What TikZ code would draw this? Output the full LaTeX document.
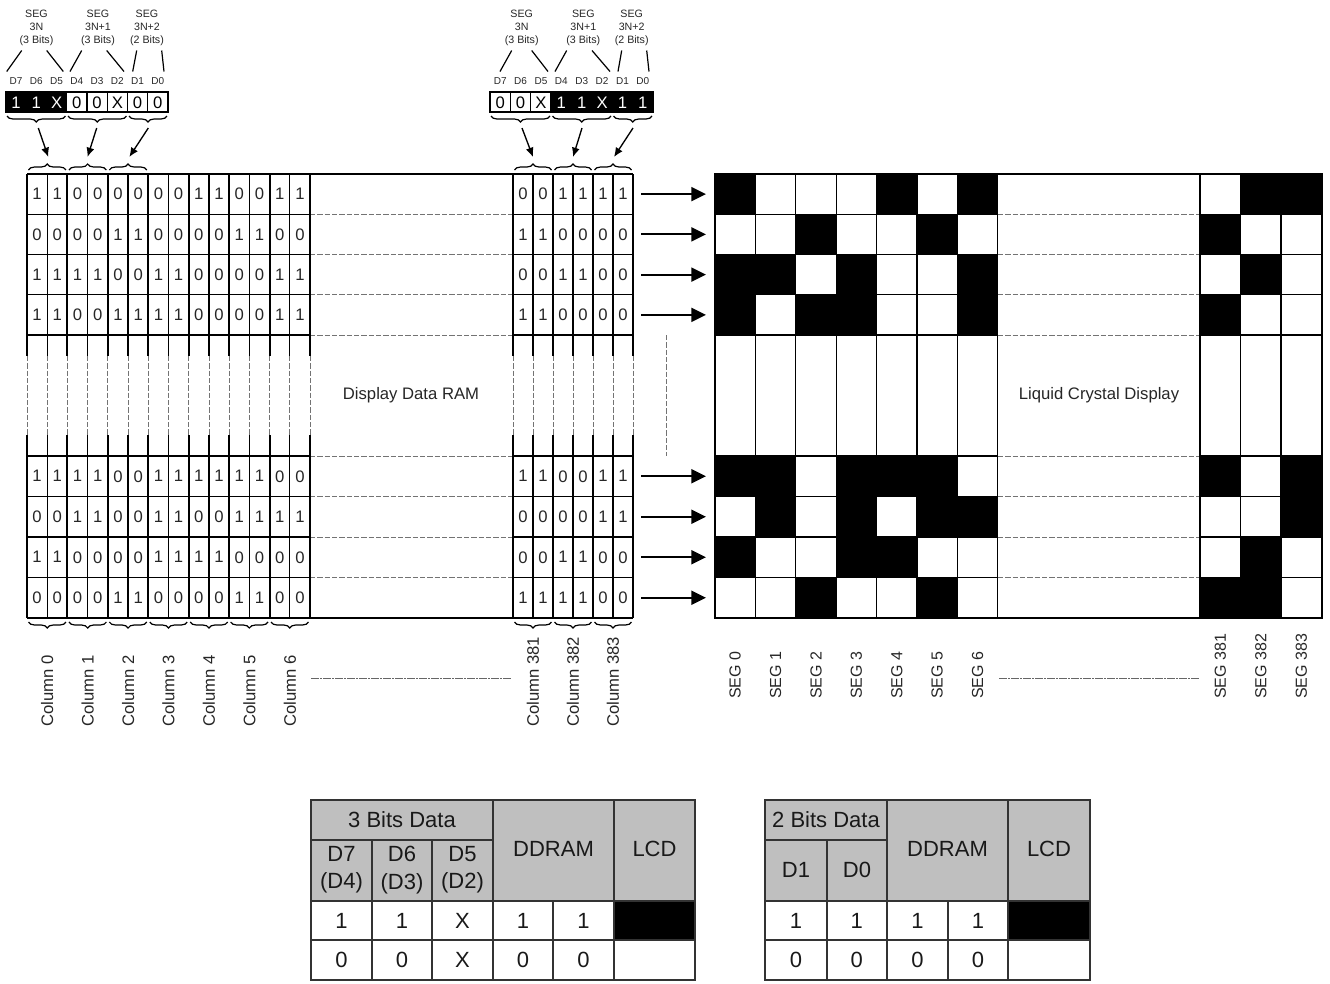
\documentclass[tikz,border=0pt]{standalone}
\usepackage{fontspec}
\setmainfont{Liberation Sans}
\usetikzlibrary{arrows.meta,decorations.pathreplacing}
\begin{document}
\begin{tikzpicture}[x=0.75pt,y=-0.75pt,
  bit/.style={font=\fontsize{12.5}{14}\selectfont, inner sep=0pt, text=black!85},
  hbit/.style={font=\fontsize{12.5}{14}\selectfont, inner sep=0pt},
  dlab/.style={font=\fontsize{7.5}{9}\selectfont, inner sep=0pt, text=black!85},
  seglab/.style={font=\fontsize{8}{10}\selectfont, inner sep=0pt, align=center, text=black!85},
  collab/.style={font=\fontsize{12.5}{14}\selectfont, inner sep=0pt, rotate=90, anchor=west, text=black!85},
  lcdlab/.style={font=\fontsize{12}{14}\selectfont, inner sep=0pt, rotate=90, anchor=west, text=black!85},
  bigtxt/.style={font=\fontsize{12.5}{14}\selectfont, inner sep=0pt, text=black!85},
  thinln/.style={line width=0.9pt},
  pairln/.style={line width=1.6pt},
  gdash/.style={black!55, line width=0.6pt, dash pattern=on 4pt off 1.5pt},
  ddash/.style={black!60, line width=0.7pt, dash pattern=on 6pt off 1pt on 1pt off 1pt},
  boxln/.style={line width=1pt},
  brc/.style={decorate, decoration={brace, amplitude=4.5pt}, line width=0.9pt},
  brcm/.style={decorate, decoration={brace, amplitude=4.5pt, mirror}, line width=0.9pt},
  harrow/.style={-{Latex[length=7pt,width=6pt]}, line width=1pt},
  bigarrow/.style={-{Triangle[length=11pt,width=10.5pt]}, line width=1.5pt},
  tblln/.style={line width=1.3pt, black!80},
  tbltxt/.style={font=\fontsize{16.5}{20.5}\selectfont, inner sep=0pt, align=center, text=black!90},
  hdrgray/.style={fill=black!25}
]
\useasboundingbox (0,0) rectangle (1330,983);

% ---------------- rows: DDRAM digits, LCD pixels, arrows ----------------
\foreach \yy/\hh/\BL/\BR/\SL/\SR [count=\r] in {
 174/40.25/{1,1,0,0,0,0,0,0,1,1,0,0,1,1}/{0,0,1,1,1,1}/{1,0,0,0,1,0,1}/{0,1,1},
 214.25/40.25/{0,0,0,0,1,1,0,0,0,0,1,1,0,0}/{1,1,0,0,0,0}/{0,0,1,0,0,1,0}/{1,0,0},
 254.5/40.25/{1,1,1,1,0,0,1,1,0,0,0,0,1,1}/{0,0,1,1,0,0}/{1,1,0,1,0,0,1}/{0,1,0},
 294.75/40.25/{1,1,0,0,1,1,1,1,0,0,0,0,1,1}/{1,1,0,0,0,0}/{1,0,1,1,0,0,1}/{1,0,0},
 456/40.5/{1,1,1,1,0,0,1,1,1,1,1,1,0,0}/{1,1,0,0,1,1}/{1,1,0,1,1,1,0}/{1,0,1},
 496.5/40.5/{0,0,1,1,0,0,1,1,0,0,1,1,1,1}/{0,0,0,0,1,1}/{0,1,0,1,0,1,1}/{0,0,1},
 537/40.5/{1,1,0,0,0,0,1,1,1,1,0,0,0,0}/{0,0,1,1,0,0}/{1,0,0,1,1,0,0}/{0,1,0},
 577.5/40.5/{0,0,0,0,1,1,0,0,0,0,1,1,0,0}/{1,1,1,1,0,0}/{0,0,1,0,0,1,0}/{1,1,0}}
{
  \pgfmathsetmacro\cy{\yy+\hh/2}
  \foreach \b [count=\i from 0] in \BL {
    \pgfmathsetmacro\cx{27+20.214*(\i+0.5)}
    \node[bit] (dl\r-\i) at (\cx,\cy) {\b};
  }
  \foreach \b [count=\i from 0] in \BR {
    \pgfmathsetmacro\cx{513+20*(\i+0.5)}
    \node[bit] (dr\r-\i) at (\cx,\cy) {\b};
  }
  \foreach \s [count=\k from 0] in \SL {
    \ifnum\s=1 \pgfmathsetmacro\px{715+40.4*\k}\fill (\px,\yy) rectangle ++(40.4,\hh); \fi
  }
  \foreach \s [count=\k from 0] in \SR {
    \ifnum\s=1 \pgfmathsetmacro\px{1200+40.5*\k}\fill (\px,\yy) rectangle ++(40.5,\hh); \fi
  }
  \coordinate (al\r) at (641,\cy);
  \coordinate (ar\r) at (706,\cy);
  \draw[bigarrow] (al\r) -- (ar\r);
}

% ---------------- DDRAM grid ----------------
\foreach \yy in {174,214.25,254.5,294.75,335,456,496.5,537,577.5,618} {
  \draw[thinln] (27,\yy) -- (310,\yy);
  \draw[thinln] (513,\yy) -- (633,\yy);
}
\draw[pairln] (310,174) -- (513,174);
\draw[pairln] (310,618) -- (513,618);
\foreach \yy in {214.25,254.5,294.75,335,456,496.5,537,577.5} {
  \draw[gdash] (310,\yy) -- (513,\yy);
}
\foreach \i in {0,...,14} {
  \pgfmathsetmacro\xx{27+20.214*\i}
  \pgfmathtruncatemacro\ev{mod(\i,2)}
  \ifnum\ev=0 \def\lst{pairln}\else\def\lst{thinln}\fi
  \draw[\lst] (\xx,174) -- (\xx,356);
  \draw[\lst] (\xx,435) -- (\xx,618);
  \draw[gdash] (\xx,356) -- (\xx,435);
}
\foreach \i in {0,...,6} {
  \pgfmathsetmacro\xx{513+20*\i}
  \pgfmathtruncatemacro\ev{mod(\i,2)}
  \ifnum\ev=0 \def\lst{pairln}\else\def\lst{thinln}\fi
  \draw[\lst] (\xx,174) -- (\xx,356);
  \draw[\lst] (\xx,435) -- (\xx,618);
  \draw[gdash] (\xx,356) -- (\xx,435);
}
\node[bigtxt] (ddram) at (411,395) {Display Data RAM};
\draw[gdash] (666,335) -- (666,456);

% ---------------- LCD grid ----------------
\foreach \yy in {214.25,254.5,294.75,335,456,496.5,537,577.5} {
  \draw[thinln] (715,\yy) -- (998,\yy);
  \draw[thinln] (1200,\yy) -- (1322,\yy);
  \draw[gdash] (998,\yy) -- (1200,\yy);
}
\foreach \k in {1,...,7} {
  \pgfmathsetmacro\xx{715+40.4*\k}
  \draw[thinln] (\xx,174) -- (\xx,618);
}
\foreach \xx in {1200,1240.5,1281} {
  \draw[thinln] (\xx,174) -- (\xx,618);
}
\draw[pairln] (715,174) rectangle (1322,618);
\node[bigtxt] (lcd) at (1099,395) {Liquid Crystal Display};

% ---------------- braces on the DDRAM ----------------
\foreach \k in {0,...,2} {
  \pgfmathsetmacro\xa{27+40.43*\k+1.5}
  \pgfmathsetmacro\xb{27+40.43*(\k+1)-1.5}
  \draw[brc] (\xa,170) -- (\xb,170);
}
\foreach \k in {0,...,2} {
  \pgfmathsetmacro\xa{513+40*\k+1.5}
  \pgfmathsetmacro\xb{513+40*(\k+1)-1.5}
  \draw[brc] (\xa,170) -- (\xb,170);
  \draw[brcm] (\xa,622) -- (\xb,622);
}
\foreach \k in {0,...,6} {
  \pgfmathsetmacro\xa{27+40.43*\k+1.5}
  \pgfmathsetmacro\xb{27+40.43*(\k+1)-1.5}
  \draw[brcm] (\xa,622) -- (\xb,622);
}

% ---------------- column / segment labels ----------------
\foreach \t [count=\k from 0] in {0,...,6} {
  \pgfmathsetmacro\cx{27+40.43*(\k+0.5)}
  \node[collab] (col\k) at (\cx,727) {Column \t};
}
\foreach \t [count=\k from 0] in {381,382,383} {
  \pgfmathsetmacro\cx{513+40*(\k+0.5)}
  \node[collab] (colr\k) at (\cx,727) {Column \t};
}
\foreach \t [count=\k from 0] in {0,...,6} {
  \pgfmathsetmacro\cx{715+40.4*(\k+0.5)}
  \node[lcdlab] (seg\k) at (\cx,699) {SEG \t};
}
\foreach \t [count=\k from 0] in {381,382,383} {
  \pgfmathsetmacro\cx{1200+40.5*(\k+0.5)}
  \node[lcdlab] (segr\k) at (\cx,699) {SEG \t};
}
\draw[ddash] (311,678) -- (512,678);
\draw[ddash] (999,678) -- (1200,678);

% ---------------- left header ----------------
\fill (6,92) rectangle (66.75,112);
\draw[boxln] (6,92) rectangle (168,112);
\foreach \xx in {66.75,87,107.25,127.5,147.75} \draw[boxln] (\xx,92) -- (\xx,112);
\foreach \t/\c [count=\i from 0] in {1/white,1/white,X/white,0/black,0/black,X/black,0/black,0/black} {
  \pgfmathsetmacro\cx{6+20.25*(\i+0.5)}
  \node[hbit,text=\c] (hl\i) at (\cx,102.5) {\t};
}
\foreach \t [count=\i from 0] in {D7,D6,D5,D4,D3,D2,D1,D0} {
  \pgfmathsetmacro\cx{6+20.25*(\i+0.5)}
  \node[dlab] (dll\i) at (\cx,81.5) {\t};
}
\node[seglab] (sl0) at (36.5,28) {SEG\\3N\\(3 Bits)};
\node[seglab] (sl1) at (98,28) {SEG\\3N+1\\(3 Bits)};
\node[seglab] (sl2) at (147,28) {SEG\\3N+2\\(2 Bits)};
\foreach \n/\xa/\xb in {1/21.7/6.7, 2/46.7/63.3, 3/81.7/70, 4/106.7/124, 5/136.7/132.7, 6/161.7/164} {
  \coordinate (la\n) at (\xa,50.5);
  \coordinate (lb\n) at (\xb,71.5);
  \draw[line width=0.9pt] (la\n) -- (lb\n);
}
\draw[brcm] (7,116) -- (65.5,116);
\draw[brcm] (68,116) -- (126.5,116);
\draw[brcm] (129,116) -- (167,116);
\foreach \n/\xa/\xb in {1/38.3/48.3, 2/96.7/87.5, 3/148.3/129.3} {
  \coordinate (hs\n) at (\xa,128);
  \coordinate (he\n) at (\xb,157);
  \draw[harrow] (hs\n) -- (he\n);
}

% ---------------- right header ----------------
\fill (551.1,92) rectangle (653,112);
\draw[boxln] (490,92) rectangle (653,112);
\foreach \xx in {510.4,530.75,551.1} \draw[boxln] (\xx,92) -- (\xx,112);
\foreach \t/\c [count=\i from 0] in {0/black,0/black,X/black,1/white,1/white,X/white,1/white,1/white} {
  \pgfmathsetmacro\cx{490+20.375*(\i+0.5)}
  \node[hbit,text=\c] (hr\i) at (\cx,102.5) {\t};
}
\foreach \t [count=\i from 0] in {D7,D6,D5,D4,D3,D2,D1,D0} {
  \pgfmathsetmacro\cx{490+20.375*(\i+0.5)}
  \node[dlab] (drl\i) at (\cx,81.5) {\t};
}
\node[seglab] (sr0) at (521.7,28) {SEG\\3N\\(3 Bits)};
\node[seglab] (sr1) at (583.3,28) {SEG\\3N+1\\(3 Bits)};
\node[seglab] (sr2) at (631.7,28) {SEG\\3N+2\\(2 Bits)};
\foreach \n/\xa/\xb in {1/511.7/500, 2/531.7/548, 3/566.7/555, 4/592/610, 5/621.7/618, 6/646.7/649} {
  \coordinate (ra\n) at (\xa,50.5);
  \coordinate (rb\n) at (\xb,71.5);
  \draw[line width=0.9pt] (ra\n) -- (rb\n);
}
\draw[brcm] (491,116) -- (550,116);
\draw[brcm] (552.5,116) -- (611,116);
\draw[brcm] (613.5,116) -- (652,116);
\foreach \n/\xa/\xb in {1/522/533, 2/582/573, 3/633/614} {
  \coordinate (rs\n) at (\xa,128);
  \coordinate (re\n) at (\xb,157);
  \draw[harrow] (rs\n) -- (re\n);
}

% ---------------- table 1 ----------------
\fill[hdrgray] (311,800) rectangle (695,901);
\fill (614,901) rectangle (695,940);
\draw[tblln] (311,840) -- (493,840);
\draw[tblln] (311,901) -- (695,901);
\draw[tblln] (311,940) -- (695,940);
\draw[tblln] (372,840) -- (372,980);
\draw[tblln] (432,840) -- (432,980);
\draw[tblln] (493,800) -- (493,980);
\draw[tblln] (553,901) -- (553,980);
\draw[tblln] (614,800) -- (614,980);
\draw[tblln] (311,800) rectangle (695,980);
\node[tbltxt] (t1h) at (402,820) {3 Bits Data};
\node[tbltxt] (t1d) at (553.5,849) {DDRAM};
\node[tbltxt] (t1l) at (654.5,849) {LCD};
\node[tbltxt] (t1a) at (341.5,870) {D7\\(D4)};
\node[tbltxt] (t1b) at (402,870) {D6\\(D3)};
\node[tbltxt] (t1c) at (462.5,870) {D5\\(D2)};
\foreach \t [count=\i from 0] in {1,1,X,1,1} {
  \pgfmathsetmacro\cx{341.5+60.5*\i}
  \node[tbltxt] (t1r\i) at (\cx,920.5) {\t};
}
\foreach \t [count=\i from 0] in {0,0,X,0,0} {
  \pgfmathsetmacro\cx{341.5+60.5*\i}
  \node[tbltxt] (t1s\i) at (\cx,960) {\t};
}

% ---------------- table 2 ----------------
\fill[hdrgray] (765,800) rectangle (1090,901);
\fill (1008,901) rectangle (1090,940);
\draw[tblln] (765,840) -- (887,840);
\draw[tblln] (765,901) -- (1090,901);
\draw[tblln] (765,940) -- (1090,940);
\draw[tblln] (827,840) -- (827,980);
\draw[tblln] (887,800) -- (887,980);
\draw[tblln] (948,901) -- (948,980);
\draw[tblln] (1008,800) -- (1008,980);
\draw[tblln] (765,800) rectangle (1090,980);
\node[tbltxt] (t2h) at (826,820) {2 Bits Data};
\node[tbltxt] (t2d) at (947.5,849) {DDRAM};
\node[tbltxt] (t2l) at (1049,849) {LCD};
\node[tbltxt] (t2a) at (796,870) {D1};
\node[tbltxt] (t2b) at (857,870) {D0};
\foreach \t [count=\i from 0] in {1,1,1,1} {
  \pgfmathsetmacro\cx{796+60.7*\i}
  \node[tbltxt] (t2r\i) at (\cx,920.5) {\t};
}
\foreach \t [count=\i from 0] in {0,0,0,0} {
  \pgfmathsetmacro\cx{796+60.7*\i}
  \node[tbltxt] (t2s\i) at (\cx,960) {\t};
}
\end{tikzpicture}
\end{document}
